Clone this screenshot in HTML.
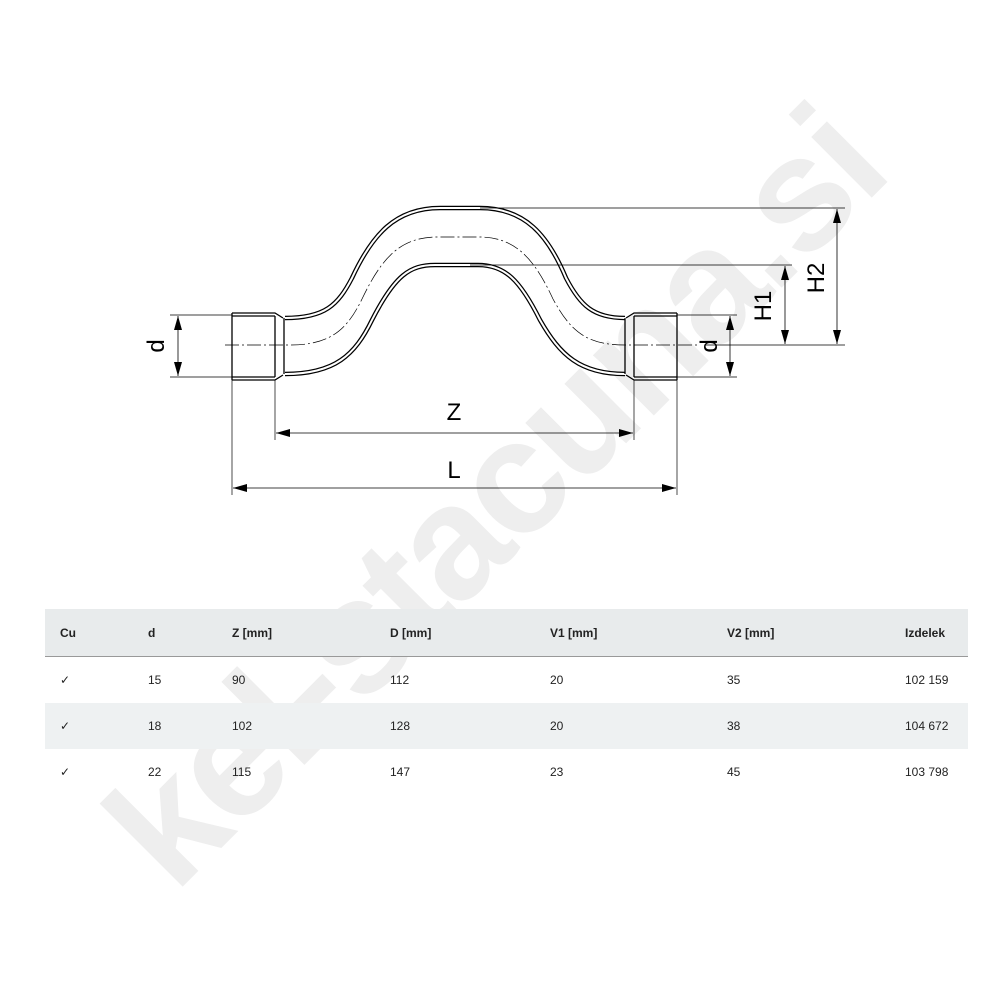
<!DOCTYPE html>
<html><head><meta charset="utf-8"><style>
html,body{margin:0;padding:0;background:#fff;}
body{width:1000px;height:1000px;position:relative;overflow:hidden;font-family:"Liberation Sans",Arial,sans-serif;}
.wm{position:absolute;font-size:162px;font-weight:bold;color:#eeeeee;transform:rotate(-45deg);transform-origin:0 0;white-space:nowrap;letter-spacing:-4px;}
svg{position:absolute;left:0;top:0;}
table{position:absolute;left:45px;top:609px;width:923px;border-collapse:collapse;font-size:12px;color:#222;}
td{padding:0;height:46px;vertical-align:middle;}
tr.h td{height:47px;background:#e8ebec;border-bottom:1px solid #999;font-weight:bold;font-size:12px;}
tr.g td{background:#eef1f2;}
</style></head><body>
<div class="wm" style="left:70px;top:790px;">kel-stacuna.si</div>
<svg width="1000" height="1000" viewBox="0 0 1000 1000">
<defs>
<marker id="a" viewBox="0 0 14 8" refX="14" refY="4" markerWidth="14" markerHeight="8" orient="auto-start-reverse" markerUnits="userSpaceOnUse"><path d="M0,0 L14,4 L0,8Z" fill="#000"/></marker>
</defs>
<g fill="none" stroke="#000">
<g stroke-width="4.5">
<path d="M285,318 C325,318 338,305 352,278 C372,235 395,208 440,208 L480,208 C525,208 548,235 566,278 C580,305 593,318 625,318"/>
<path d="M285,374 C335,374 355,355 372,320 C395,275 410,265 435,265 L478,265 C505,265 520,280 540,320 C560,355 580,374 625,374"/>
</g>
<g stroke="#fff" stroke-width="2">
<path d="M285,318 C325,318 338,305 352,278 C372,235 395,208 440,208 L480,208 C525,208 548,235 566,278 C580,305 593,318 625,318"/>
<path d="M285,374 C335,374 355,355 372,320 C395,275 410,265 435,265 L478,265 C505,265 520,280 540,320 C560,355 580,374 625,374"/>
</g>
<g stroke-width="1.3">
<path d="M232,313 L275,313 L283,318 M232,316 L275,316"/>
<path d="M232,380 L275,380 L283,375 M232,377 L275,377"/>
<path d="M232,313 L232,380 M275,316 L275,377 M284,318 L284,374"/>
<path d="M677,313 L634,313 L626,318 M677,316 L634,316"/>
<path d="M677,380 L634,380 L626,375 M677,377 L634,377"/>
<path d="M677,313 L677,380 M634,316 L634,377 M625,318 L625,374"/>
</g>
<path d="M225,345 L290,345 C330,345 347,330 362,299 C383,255 402,237 438,237 L479,237 C515,237 534,258 553,299 C570,330 585,345 625,345 L700,345" stroke-width="0.7" stroke-dasharray="14,3,2,3"/>
<g stroke-width="0.7">
<path d="M170,315 L232,315 M170,377 L232,377"/>
<path d="M677,315 L737,315 M677,377 L737,377"/>
<path d="M480,208 L845,208 M470,265 L792,265 M705,345 L845,345"/>
<path d="M232,380 L232,495 M275,380 L275,440 M634,380 L634,440 M677,380 L677,495"/>
</g>
<g stroke-width="0.8">
<line x1="178" y1="316" x2="178" y2="376" marker-start="url(#a)" marker-end="url(#a)"/>
<line x1="730" y1="316" x2="730" y2="376" marker-start="url(#a)" marker-end="url(#a)"/>
<line x1="785" y1="266" x2="785" y2="344" marker-start="url(#a)" marker-end="url(#a)"/>
<line x1="837" y1="209" x2="837" y2="344" marker-start="url(#a)" marker-end="url(#a)"/>
<line x1="276" y1="433" x2="633" y2="433" marker-start="url(#a)" marker-end="url(#a)"/>
<line x1="233" y1="488" x2="676" y2="488" marker-start="url(#a)" marker-end="url(#a)"/>
</g>
</g>
<g font-family="Liberation Sans, Arial, sans-serif" font-size="24" fill="#000" text-anchor="middle">
<text x="454" y="420">Z</text>
<text x="454" y="478">L</text>
<text transform="translate(164,346) rotate(-90)">d</text>
<text transform="translate(717,346) rotate(-90)">d</text>
<text transform="translate(771,306) rotate(-90)">H1</text>
<text transform="translate(824,278) rotate(-90)">H2</text>
</g>
</svg>
<table>
<tr class="h"><td style="width:88px;padding-left:15px">Cu</td><td style="width:84px">d</td><td style="width:158px">Z [mm]</td><td style="width:160px">D [mm]</td><td style="width:177px">V1 [mm]</td><td style="width:178px">V2 [mm]</td><td>Izdelek</td></tr>
<tr><td style="padding-left:15px">✓</td><td>15</td><td>90</td><td>112</td><td>20</td><td>35</td><td>102 159</td></tr>
<tr class="g"><td style="padding-left:15px">✓</td><td>18</td><td>102</td><td>128</td><td>20</td><td>38</td><td>104 672</td></tr>
<tr><td style="padding-left:15px">✓</td><td>22</td><td>115</td><td>147</td><td>23</td><td>45</td><td>103 798</td></tr>
</table>
</body></html>
